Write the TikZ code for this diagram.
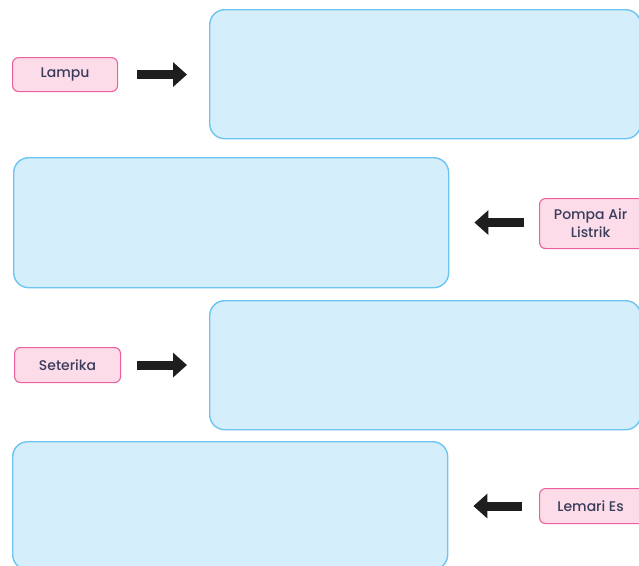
\documentclass[tikz,border=0pt]{standalone}
\usepackage{fontspec}
\setmainfont{Poppins Medium}
\usetikzlibrary{arrows.meta}
\definecolor{bfill}{RGB}{212,238,251}
\definecolor{bline}{RGB}{110,196,240}
\definecolor{pfill}{RGB}{252,220,232}
\definecolor{pline}{RGB}{236,96,158}
\definecolor{tcol}{RGB}{58,60,92}
\definecolor{acol}{RGB}{30,30,30}
\tikzset{
  bluebox/.style={draw=bline, fill=bfill, line width=1.4pt, rounded corners=15pt, inner sep=0pt, anchor=north west},
  pinkbox/.style={draw=pline, fill=pfill, line width=1.1pt, rounded corners=6pt, inner sep=0pt, anchor=north west, align=center, font=\fontsize{14}{18}\selectfont, text=tcol},
  blockarrow/.style={draw=acol, line width=9pt, -{Triangle[width=24pt,length=14pt]}}
}
\begin{document}
\begin{tikzpicture}[x=1pt,y=-1pt]
\useasboundingbox (0,0) rectangle (639,565);
% answer boxes
\node[bluebox, minimum width=431pt, minimum height=129pt] (b1) at (209,9) {};
\node[bluebox, minimum width=435pt, minimum height=130pt] (b2) at (13,157) {};
\node[bluebox, minimum width=431pt, minimum height=129pt] (b3) at (209,300) {};
\node[bluebox, minimum width=435pt, minimum height=128pt] (b4) at (12,441) {};
% labels
\node[pinkbox, minimum width=105pt, minimum height=34pt] (lampu) at (12,57) {Lampu};
\node[pinkbox, minimum width=108pt, minimum height=50pt] (pompa) at (539,198) {\hspace*{-6pt}Pompa Air\\\hspace*{-6pt}Listrik};
\node[pinkbox, minimum width=106pt, minimum height=35pt] (seterika) at (14,347) {Seterika};
\node[pinkbox, minimum width=108pt, minimum height=35pt] (lemari) at (539,488) {\hspace*{-6pt}Lemari Es};
% arrows
\draw[blockarrow, shorten <=19pt, shorten >=22pt] (lampu.east) -- (lampu.east -| b1.west);
\draw[blockarrow, shorten <=15pt, shorten >=25pt] ([yshift=1pt]pompa.west) -- ([yshift=1pt]pompa.west -| b2.east);
\draw[blockarrow, shorten <=16pt, shorten >=22pt] (seterika.east) -- (seterika.east -| b3.west);
\draw[blockarrow, shorten <=17pt, shorten >=25pt] (lemari.west) -- (lemari.west -| b4.east);
\end{tikzpicture}
\end{document}
